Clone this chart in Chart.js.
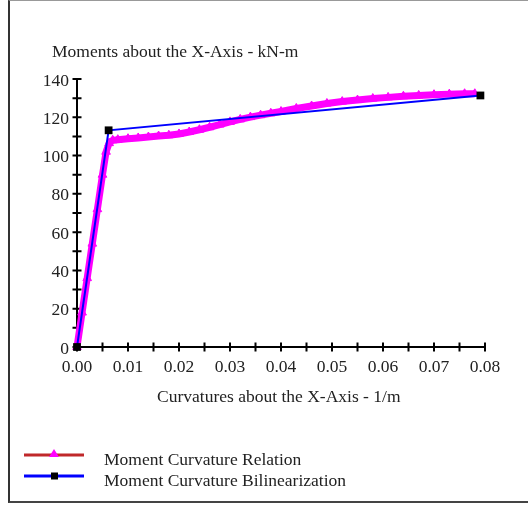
<!DOCTYPE html>
<html>
<head>
<meta charset="utf-8">
<script src="https://cdn.jsdelivr.net/npm/chart.js@4.4.1/dist/chart.umd.min.js"></script>
<style>
html,body{margin:0;padding:0;background:#fff;}
body{width:528px;height:506px;position:relative;overflow:hidden;}
#frame{position:absolute;left:8px;top:0;width:560px;height:500px;border-left:2px solid #333;border-top:1px solid #999;border-bottom:2px solid #444;}
#wrap{position:absolute;left:0;top:0;width:528px;height:506px;}
</style>
</head>
<body>
<div id="frame"></div>
<div id="wrap"><canvas id="c" width="528" height="506"></canvas></div>
<script>
// ---- data ----
const curvatureRelation = [0, 0.001, 0.002, 0.003, 0.004, 0.005, 0.0057, 0.0063, 0.007, 0.008, 0.010, 0.012, 0.014, 0.016, 0.018, 0.020, 0.022, 0.024, 0.026, 0.028, 0.030, 0.032, 0.034, 0.036, 0.038, 0.040, 0.043, 0.046, 0.049, 0.052, 0.055, 0.058, 0.061, 0.064, 0.067, 0.070, 0.073, 0.076, 0.078];
const momentRelation    = [0, 18, 36, 54, 72, 90, 102, 106.5, 108, 108.3, 108.8, 109.2, 109.7, 110.2, 110.6, 111.3, 112.3, 113.5, 114.8, 116.2, 117.6, 118.9, 120.1, 121.1, 122.1, 123, 124.6, 125.9, 127.2, 128.2, 129, 129.8, 130.4, 131, 131.4, 131.8, 132.1, 132.3, 132.3];
const curvatureBilinear = [0, 0.0062, 0.0791];
const momentBilinear    = [0, 113.2, 131.4];

const seriesNames = ["Moment Curvature Relation", "Moment Curvature Bilinearization"];
const xTickLabels = ["0.00","0.01","0.02","0.03","0.04","0.05","0.06","0.07","0.08"];
const yTickLabels = ["0","20","40","60","80","100","120","140"];
const xMinorStep = 0.005;
const yMinorStep = 10;
const chartTitle = "Moments about the X-Axis - kN-m";
const xAxisTitle = "Curvatures about the X-Axis - 1/m";

const FAMILY = '"Liberation Serif", "Times New Roman", serif';
const FONT = '17.5px ' + FAMILY;
const TEXT = '#222222';

const xMax = parseFloat(xTickLabels[xTickLabels.length - 1]);
const yMax = parseFloat(yTickLabels[yTickLabels.length - 1]);

const decor = {
  id: 'decor',
  beforeDatasetsDraw(chart) {
    const {ctx, scales: {x, y}} = chart;
    const x0 = x.getPixelForValue(0), x1 = x.getPixelForValue(xMax);
    const y0 = y.getPixelForValue(0), y1 = y.getPixelForValue(yMax);
    ctx.save();
    ctx.strokeStyle = '#000';
    ctx.lineWidth = 2;
    ctx.beginPath();
    ctx.moveTo(x0, y0); ctx.lineTo(x0, y1);
    ctx.moveTo(x0, y0); ctx.lineTo(x1, y0);
    for (let v = 0; v <= yMax + 1e-9; v += yMinorStep) {
      const p = y.getPixelForValue(v);
      ctx.moveTo(x0 - 4.5, p); ctx.lineTo(x0 + 4.5, p);
    }
    const nx = Math.round(xMax / xMinorStep);
    for (let i = 0; i <= nx; i++) {
      const p = x.getPixelForValue(i * xMinorStep);
      ctx.moveTo(p, y0 - 4.5); ctx.lineTo(p, y0 + 4.5);
    }
    ctx.stroke();
    ctx.restore();
  },
  afterDraw(chart) {
    const {ctx} = chart;
    ctx.save();
    ctx.font = FONT;
    ctx.fillStyle = TEXT;
    ctx.textBaseline = 'alphabetic';
    ctx.textAlign = 'left';
    ctx.fillText(chartTitle, 52, 57);
    ctx.fillText(xAxisTitle, 157, 402);
    // legend
    chart.data.datasets.forEach((ds, i) => {
      const ly = 455 + i * 21;
      ctx.strokeStyle = ds.legendLineColor;
      ctx.lineWidth = 3;
      ctx.beginPath(); ctx.moveTo(24, ly); ctx.lineTo(84, ly); ctx.stroke();
      ctx.fillStyle = ds.pointBackgroundColor;
      ctx.beginPath();
      if (ds.pointStyle === 'triangle') {
        ctx.moveTo(54, ly - 6); ctx.lineTo(59, ly + 2); ctx.lineTo(49, ly + 2); ctx.closePath();
      } else {
        ctx.rect(51, ly - 3.5, 7, 7);
      }
      ctx.fill();
      ctx.fillStyle = TEXT;
      ctx.fillText(ds.label, 104, ly + 10);
    });
    ctx.restore();
  }
};

new Chart(document.getElementById('c'), {
  type: 'scatter',
  data: {
    datasets: [
      {
        label: seriesNames[0],
        data: curvatureRelation.map((c, i) => ({x: c, y: momentRelation[i]})),
        showLine: true,
        borderColor: '#ff00ff',
        borderWidth: 7,
        pointStyle: 'triangle',
        pointRadius: 5,
        pointBorderWidth: 1,
        pointBackgroundColor: '#ff00ff',
        pointBorderColor: '#ff00ff',
        legendLineColor: '#c0282a',
        clip: false,
        order: 2
      },
      {
        label: seriesNames[1],
        data: curvatureBilinear.map((c, i) => ({x: c, y: momentBilinear[i]})),
        showLine: true,
        borderColor: '#0000ff',
        borderWidth: 2,
        pointStyle: 'rect',
        pointRadius: 5.5,
        pointBorderWidth: 0,
        pointBackgroundColor: '#000000',
        pointBorderColor: '#000000',
        legendLineColor: '#0000ff',
        clip: false,
        order: 1
      }
    ]
  },
  options: {
    responsive: false,
    animation: false,
    devicePixelRatio: 1,
    layout: {padding: {left: 10, right: 43, top: 79, bottom: 99}},
    plugins: {legend: {display: false}, tooltip: {enabled: false}, title: {display: false}},
    scales: {
      x: {
        type: 'linear', min: 0, max: xMax,
        grid: {display: false, drawTicks: false},
        border: {display: false},
        afterFit(s) { s.height = 60; },
        ticks: {
          stepSize: 0.01, padding: 10, color: TEXT, maxRotation: 0, autoSkip: false,
          font: {family: FAMILY, size: 17.5},
          callback: (v) => { const i = Math.round(v / 0.01); return xTickLabels[i]; }
        }
      },
      y: {
        type: 'linear', min: 0, max: yMax,
        grid: {display: false, drawTicks: false},
        border: {display: false},
        afterFit(s) { s.width = 67; },
        ticks: {
          stepSize: 20, padding: 8, color: TEXT, labelOffset: 2,
          font: {family: FAMILY, size: 17.5},
          callback: (v) => { const i = Math.round(v / 20); return yTickLabels[i]; }
        }
      }
    }
  },
  plugins: [decor]
});
</script>
</body>
</html>
